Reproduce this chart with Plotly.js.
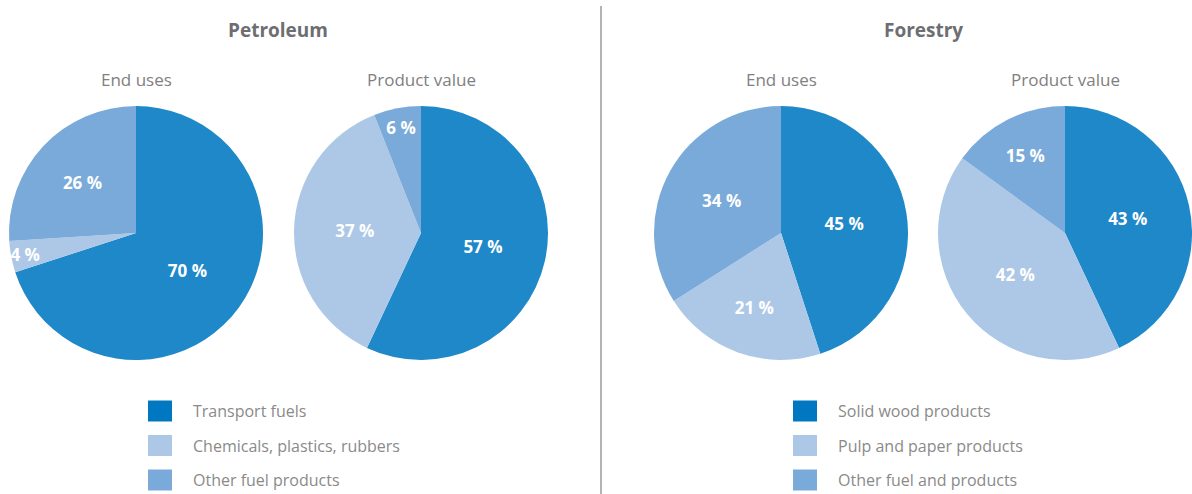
<!DOCTYPE html>
<html>
<head>
<meta charset="utf-8">
<script src="https://cdn.plot.ly/plotly-3.0.1.min.js"></script>
<style>html,body{margin:0;padding:0;background:#fff;}#chart{width:1192px;height:494px;}</style>
</head>
<body>
<div id="chart"></div>
<script>
// ---- data ----
const petroleumLabels = ["Transport fuels", "Chemicals, plastics, rubbers", "Other fuel products"];
const petroleumEndUses = [70, 4, 26];
const petroleumProductValue = [57, 37, 6];
const forestryLabels = ["Solid wood products", "Pulp and paper products", "Other fuel and products"];
const forestryEndUses = [45, 21, 34];
const forestryProductValue = [43, 42, 15];
const groupTitles = ["Petroleum", "Forestry"];
const pieTitles = ["End uses", "Product value"];

// ---- style ----
const W = 1192, H = 494;
const pieColors = ["#1f88c9", "#adc8e6", "#7aaad9"];
const legendColors = ["#0077c1", "#adc8e6", "#7aaad9"];
const FONT = "Open Sans, Noto Sans, sans-serif";
const px = x => x / W;
const py = y => 1 - y / H;

// pie boxes in pixels [left, right], vertical shared
const pieTop = 106, pieBottom = 360;
const pieBoxes = [[9, 263], [294, 548], [654, 908], [938, 1192]];
const pieValues = [petroleumEndUses, petroleumProductValue, forestryEndUses, forestryProductValue];
const pieLabels = [petroleumLabels, petroleumLabels, forestryLabels, forestryLabels];

const traces = pieValues.map((vals, i) => ({
  type: "pie",
  values: vals,
  labels: pieLabels[i],
  sort: false,
  direction: "clockwise",
  rotation: 0,
  marker: {colors: pieColors, line: {width: 0}},
  texttemplate: "%{value} %",
  textposition: "inside",
  insidetextorientation: "horizontal",
  textfont: {family: FONT, size: 17, color: "#ffffff", weight: "bold"},
  hoverinfo: "label+value",
  showlegend: false,
  domain: {x: [px(pieBoxes[i][0]), px(pieBoxes[i][1])], y: [py(pieBottom), py(pieTop)]}
}));

const annotations = [];
const shapes = [];
// group titles
const groupCenters = [278, 923];
groupTitles.forEach((t, g) => {
  annotations.push({text: "<b>" + t + "</b>", x: px(groupCenters[g]), y: py(30), xref: "paper", yref: "paper",
    xanchor: "center", yanchor: "middle", showarrow: false,
    font: {family: FONT, size: 19, color: "#6d6e71"}});
});
// pie subtitles
pieBoxes.forEach((b, i) => {
  annotations.push({text: pieTitles[i % 2], x: px((b[0] + b[1]) / 2), y: py(80), xref: "paper", yref: "paper",
    xanchor: "center", yanchor: "middle", showarrow: false,
    font: {family: FONT, size: 17, color: "#808080"}});
});
// legends
const legendX = [148, 793];
const legendY0 = 411, legendStep = 34.5;
[petroleumLabels, forestryLabels].forEach((labs, g) => {
  labs.forEach((lab, k) => {
    const cy = legendY0 + k * legendStep;
    shapes.push({type: "rect", xref: "paper", yref: "paper",
      x0: px(legendX[g]), x1: px(legendX[g] + 24), y0: py(cy + 10.5), y1: py(cy - 10.5),
      fillcolor: legendColors[k], line: {width: 0}});
    annotations.push({text: lab, x: px(legendX[g] + 43), y: py(cy), xref: "paper", yref: "paper",
      xanchor: "left", yanchor: "middle", showarrow: false,
      font: {family: FONT, size: 16, color: "#8a8a8a"}});
  });
});
// divider
shapes.push({type: "line", xref: "paper", yref: "paper", x0: px(601), x1: px(601), y0: py(6), y1: py(494),
  line: {color: "#9a9a9a", width: 1.5}});

const layout = {
  width: W, height: H,
  margin: {l: 0, r: 0, t: 0, b: 0},
  paper_bgcolor: "#ffffff",
  showlegend: false,
  uniformtext: {mode: "show", minsize: 17},
  annotations: annotations,
  shapes: shapes,
  font: {family: FONT}
};

Plotly.newPlot("chart", traces, layout, {displayModeBar: false, staticPlot: true});
</script>
</body>
</html>
